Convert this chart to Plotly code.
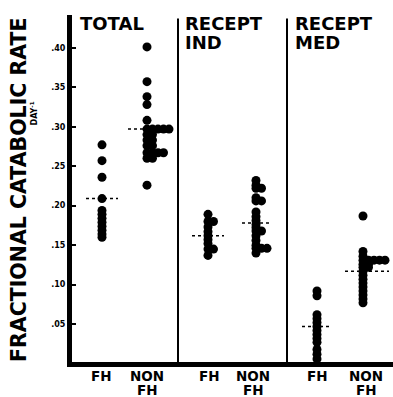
import plotly.graph_objects as go

# ---- data ----
panel_lines = [["TOTAL"], ["RECEPT", "IND"], ["RECEPT", "MED"]]
group_labels = [["FH"], ["NON", "FH"], ["FH"], ["NON", "FH"], ["FH"], ["NON", "FH"]]

total_fh = [0.277, 0.257, 0.236, 0.209, 0.194, 0.189, 0.184, 0.179, 0.174, 0.169, 0.164, 0.160]
total_nonfh = [0.401, 0.357, 0.338, 0.328, 0.308, 0.297, 0.297, 0.297, 0.297, 0.297,
               0.290, 0.290, 0.283, 0.283, 0.276, 0.276, 0.267, 0.267, 0.267, 0.267,
               0.260, 0.260, 0.226]
ind_fh = [0.189, 0.180, 0.180, 0.173, 0.167, 0.162, 0.157, 0.152, 0.145, 0.145, 0.137]
ind_nonfh = [0.232, 0.226, 0.222, 0.222, 0.210, 0.206, 0.206, 0.192, 0.186, 0.181, 0.176,
             0.172, 0.168, 0.168, 0.162, 0.156, 0.150, 0.146, 0.146, 0.146, 0.140]
med_fh = [0.092, 0.086, 0.062, 0.057, 0.052, 0.047, 0.042, 0.037, 0.032, 0.027, 0.018, 0.012, 0.006]
med_nonfh = [0.187, 0.142, 0.136, 0.131, 0.131, 0.131, 0.131, 0.131, 0.126, 0.126, 0.122, 0.122,
             0.117, 0.112, 0.107, 0.102, 0.097, 0.092, 0.087, 0.082, 0.077]
medians = [0.209, 0.297, 0.162, 0.178, 0.047, 0.117]

ytick_vals = [0.05, 0.10, 0.15, 0.20, 0.25, 0.30, 0.35, 0.40]
ytick_text = [".05", ".10", ".15", ".20", ".25", ".30", ".35", ".40"]

series = [total_fh, total_nonfh, ind_fh, ind_nonfh, med_fh, med_nonfh]

# ---- layout helpers (positions, not data) ----
centers = [30, 75, 136, 184, 245, 291]
label_centers = [29, 75, 137, 181, 245, 294]
med_half = [16, 22, 16, 14, 15, 22]
med_shift = [0, 3, 0, 0, 0, 4]
dividers = [106, 215]
panel_x = [6, 111, 221]
step = 5.5
FONT = "DejaVu Sans"
PLOT_TOP, PLOT_BOT = 15, 362


def py(pix):
    return (PLOT_BOT - pix) / (PLOT_BOT - PLOT_TOP)


fig = go.Figure()
for c, vals in zip(centers, series):
    xs = []
    seen = {}
    for v in vals:
        k = seen.get(v, 0)
        xs.append(c + k * step)
        seen[v] = k + 1
    fig.add_trace(go.Scatter(x=xs, y=vals, mode="markers",
                             marker=dict(color="black", size=9, line=dict(width=0)),
                             showlegend=False, hoverinfo="y"))

shapes = []
for c, m, h, s in zip(centers, medians, med_half, med_shift):
    shapes.append(dict(type="line", xref="x", yref="y", x0=c - h + s, x1=c + h + s, y0=m, y1=m,
                       line=dict(color="black", width=1.5, dash="dot"), layer="below"))
for d in dividers:
    shapes.append(dict(type="line", xref="x", yref="paper", x0=d, x1=d, y0=0, y1=0.99,
                       line=dict(color="black", width=2)))
fig.update_layout(shapes=shapes)

ann = []
line_mid = [23.5, 43]
for px, lines in zip(panel_x, panel_lines):
    for i, t in enumerate(lines):
        ann.append(dict(xref="x", yref="paper", x=px, y=py(line_mid[i]), xanchor="left",
                        yanchor="middle", text=t, showarrow=False,
                        font=dict(family=FONT, size=18, color="black", weight="bold")))
xl_mid = [376, 389.5]
for lc, lines in zip(label_centers, group_labels):
    for i, t in enumerate(lines):
        ann.append(dict(xref="x", yref="paper", x=lc, y=py(xl_mid[i]), xanchor="center",
                        yanchor="middle", text=t, showarrow=False,
                        font=dict(family=FONT, size=13.5, color="black", weight="bold")))
ann.append(dict(xref="paper", yref="paper", x=(19 - 72) / 321, y=py(190), textangle=-90,
                xanchor="center", yanchor="middle",
                text="FRACTIONAL CATABOLIC RATE", showarrow=False,
                font=dict(family=FONT, size=20.5, color="black", weight="bold")))
ann.append(dict(xref="paper", yref="paper", x=(33.5 - 72) / 321, y=py(114), textangle=-90,
                xanchor="center", yanchor="middle",
                text="DAY<sup>-1</sup>", showarrow=False,
                font=dict(family=FONT, size=8, color="black", weight="bold")))
fig.update_layout(annotations=ann)

fig.update_layout(
    width=393, height=397,
    margin=dict(l=72, r=0, t=PLOT_TOP, b=397 - PLOT_BOT, pad=0),
    paper_bgcolor="white", plot_bgcolor="white",
    xaxis=dict(range=[0, 321], showticklabels=False, automargin=False,
               showline=True, linecolor="black", linewidth=5, ticks="",
               showgrid=False, zeroline=False),
    yaxis=dict(range=[0.0021, 0.4414], tickvals=ytick_vals, ticktext=ytick_text,
               automargin=False,
               showline=True, linecolor="black", linewidth=5, ticks="inside",
               ticklen=4, tickwidth=2, tickcolor="black",
               showgrid=False, zeroline=False,
               tickfont=dict(family=FONT, size=8, color="black", weight="bold")),
)

fig.write_html("out.html", config={"displayModeBar": False},
               post_script="document.body.style.margin='0';document.body.style.overflow='hidden';")
